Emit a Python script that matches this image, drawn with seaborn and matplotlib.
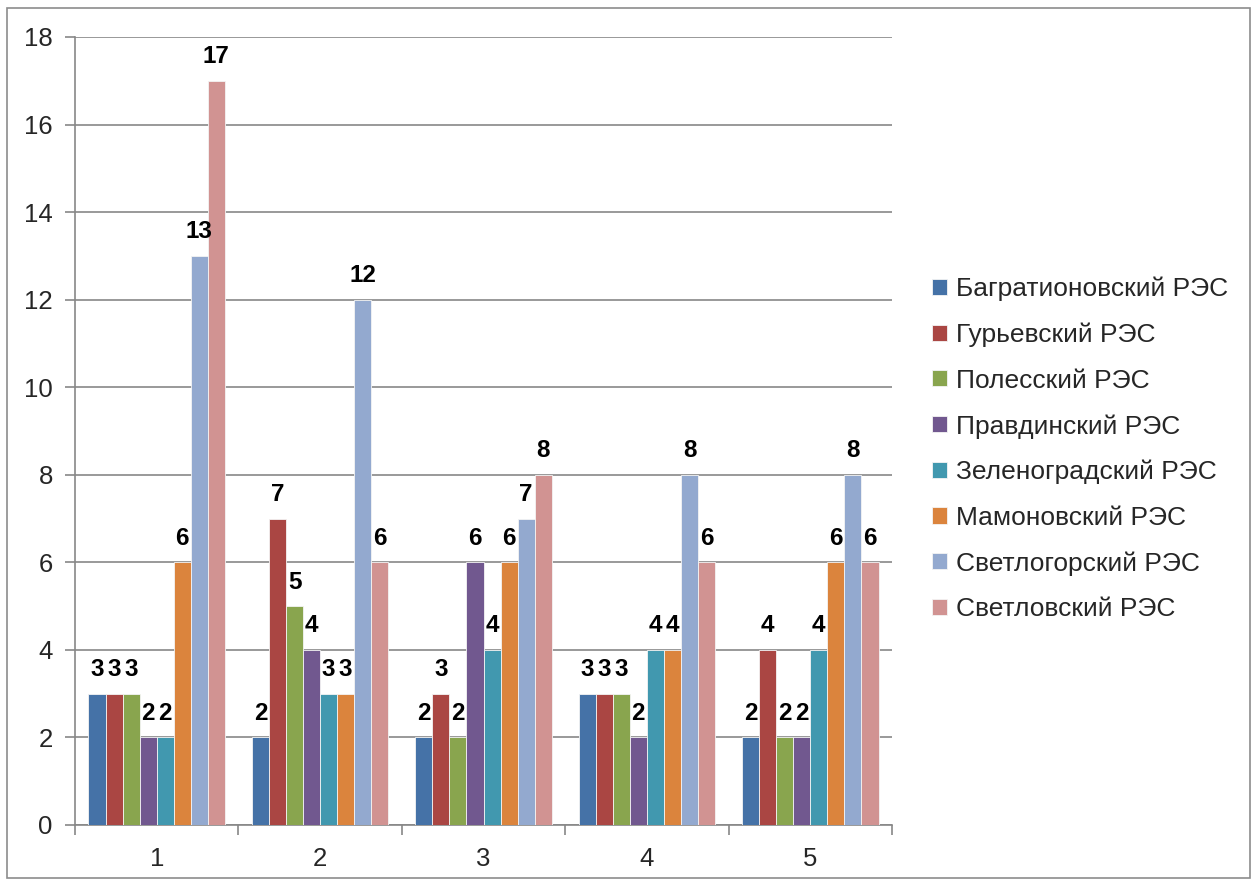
import matplotlib
matplotlib.use("Agg")
import matplotlib.pyplot as plt
from matplotlib.patches import Rectangle
import seaborn as sns
import pandas as pd

# Series names (districts) and group labels
districts = [
    "Багратионовский РЭС",
    "Гурьевский РЭС",
    "Полесский РЭС",
    "Правдинский РЭС",
    "Зеленоградский РЭС",
    "Мамоновский РЭС",
    "Светлогорский РЭС",
    "Светловский РЭС",
]
groups = ["1", "2", "3", "4", "5"]

# Values per group, one entry per district
group1 = [3, 3, 3, 2, 2, 6, 13, 17]
group2 = [2, 7, 5, 4, 3, 3, 12, 6]
group3 = [2, 3, 2, 6, 4, 6, 7, 8]
group4 = [3, 3, 3, 2, 4, 4, 8, 6]
group5 = [2, 4, 2, 2, 4, 6, 8, 6]

colors = ["#4572A7", "#AA4643", "#89A54E", "#71588F",
          "#4198AF", "#DB843D", "#93A9CF", "#D19392"]

rows = []
for g, vals in zip(groups, [group1, group2, group3, group4, group5]):
    for d, v in zip(districts, vals):
        rows.append({"group": g, "district": d, "value": v})
df = pd.DataFrame(rows)

sns.set_theme(style="white")
plt.rcParams["font.family"] = ["Liberation Sans", "DejaVu Sans"]

fig = plt.figure(figsize=(12.54, 8.81), dpi=100)
ax = fig.add_axes([75 / 1254, 1 - 825 / 881, (892 - 75) / 1254, (825 - 37) / 881])

sns.barplot(data=df, x="group", y="value", hue="district", order=groups,
            hue_order=districts, palette=colors, width=0.835, gap=0,
            edgecolor="#f4f4f4", linewidth=0.6, saturation=1,
            errorbar=None, ax=ax, zorder=3)

for cont in ax.containers:
    ax.bar_label(cont, fmt="%d", padding=9, fontsize=17.5, fontweight="bold",
                 color="black")

ax.set_ylim(0, 18)
ax.set_yticks(range(0, 19, 2))
ax.set_xlim(-0.5, 4.5)
ax.set_xlabel("")
ax.set_ylabel("")

grid_color = "#878787"
ax.yaxis.grid(True, color=grid_color, linewidth=1.2, zorder=0)
ax.set_axisbelow(True)
for side in ["top", "right"]:
    ax.spines[side].set_visible(False)
for side in ["left", "bottom"]:
    ax.spines[side].set_color(grid_color)
    ax.spines[side].set_linewidth(1.2)

ax.tick_params(axis="y", length=7, width=1.2, color=grid_color,
               labelsize=18.5, pad=9, direction="out", left=True)
ax.tick_params(axis="x", which="major", length=0, labelsize=18.5, pad=16)
ax.set_xticks([i - 0.5 for i in range(6)], minor=True)
ax.tick_params(axis="x", which="minor", length=7, width=1.2, color=grid_color,
               direction="out", bottom=True)

handles, labels = ax.get_legend_handles_labels()
ax.legend_.remove()
fig.legend(handles, labels, loc="center left",
           bbox_to_anchor=(919 / 1254, 1 - 449 / 881), frameon=False,
           fontsize=19, handlelength=0.57, handleheight=0.57,
           handletextpad=0.34, labelspacing=0.81, borderpad=0)

# Outer chart-area frame
fig.patches.append(Rectangle((7 / 1254, 3 / 881), 1243 / 1254, 870 / 881,
                             transform=fig.transFigure, fill=False,
                             edgecolor="#8c8c8c", linewidth=1.2))

fig.savefig("out.png", dpi=100)
